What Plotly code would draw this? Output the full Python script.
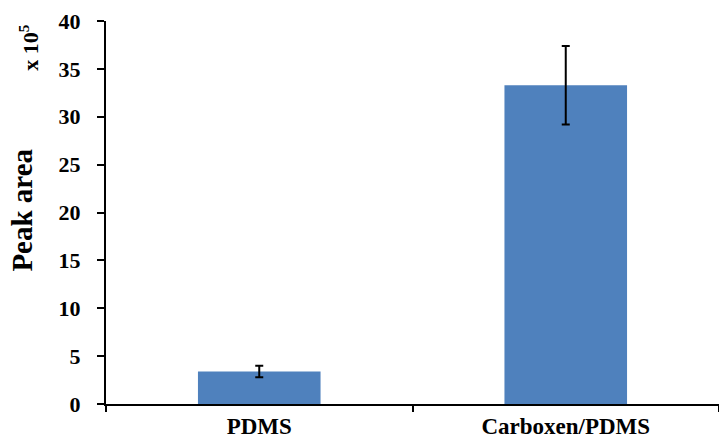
import plotly.graph_objects as go

categories = ["PDMS", "Carboxen/PDMS"]
peak_area = [3.4, 33.3]
errors = [0.6, 4.1]
y_ticks = [0, 5, 10, 15, 20, 25, 30, 35, 40]

font_family = "Liberation Serif, Times New Roman, serif"

fig = go.Figure()
fig.add_trace(go.Bar(
    x=categories, y=peak_area, width=0.4,
    marker=dict(color="#4F81BD", line=dict(width=0)),
    error_y=dict(type="data", array=errors, visible=True,
                 color="black", thickness=2, width=4),
))

fig.update_layout(
    width=719, height=443,
    margin=dict(l=106, r=0, t=21, b=39),
    plot_bgcolor="white", paper_bgcolor="white",
    showlegend=False,
    font=dict(family=font_family, color="black"),
    xaxis=dict(
        range=[-0.5, 1.5], showline=True, linecolor="black", linewidth=2,
        ticks="outside", ticklen=6, tickwidth=2, tickcolor="black",
        tickson="boundaries", ticklabelstandoff=0, automargin=False,
        tickvals=categories, ticktext=["<b>%s</b>" % c for c in categories],
        tickfont=dict(size=23, family=font_family, color="black"),
        showgrid=False, zeroline=False,
    ),
    yaxis=dict(
        range=[0, 40], tickvals=y_ticks, ticktext=["<b>%d</b>" % v for v in y_ticks],
        showline=True, linecolor="black", linewidth=2,
        ticks="outside", ticklen=7, tickwidth=2, tickcolor="black",
        ticklabelstandoff=12, automargin=False,
        tickfont=dict(size=22, family=font_family, color="black"),
        showgrid=False, zeroline=False,
    ),
    annotations=[
        dict(text="<b>Peak area</b>", textangle=-90, xref="paper", yref="paper",
             x=-0.137, y=0.505, xanchor="center", yanchor="middle", showarrow=False,
             font=dict(size=29, family=font_family, color="black")),
        dict(text="<b>x 10<sup>5</sup></b>", textangle=-90, xref="paper", yref="paper",
             x=-0.126, y=0.932, xanchor="center", yanchor="middle", showarrow=False,
             font=dict(size=22, family=font_family, color="black")),
    ],
)

fig.write_html("out.html", config={"displayModeBar": False},
               post_script="document.body.style.margin='0';")
